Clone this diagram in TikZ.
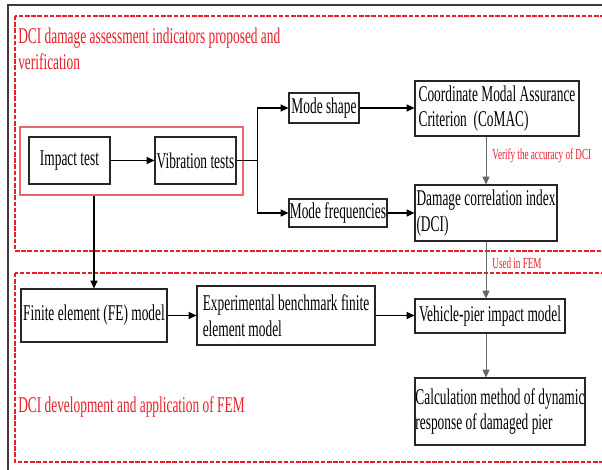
\documentclass[tikz,border=0pt]{standalone}
\usepackage{fontspec}
\setmainfont{Liberation Serif}[FakeStretch=0.595]
\usetikzlibrary{arrows.meta}

\definecolor{dashred}{RGB}{232,30,40}
\definecolor{grpred}{RGB}{234,100,104}
\definecolor{framegrey}{RGB}{60,60,60}
\newlength{\pu}
\setlength{\pu}{0.25mm}

\begin{document}
\begin{tikzpicture}[x=0.25mm, y=-0.25mm,
	every node/.style={font=\fontsize{16pt}{18.1pt}\selectfont},
	box/.style={draw=black!85, line width=0.8pt, align=left, inner sep=0pt},
	flow/.style={-{Triangle[length=5.5pt,width=5pt]}, line width=0.8pt},
	greyflow/.style={-{Triangle[length=5.5pt,width=5pt]}, draw=black!60, line width=0.6pt},
	area/.style={draw=dashred, line width=0.85pt, dash pattern=on 3.2pt off 1.2pt},
	redtext/.style={text=dashred, align=left, inner sep=0pt},
	smallred/.style={text=dashred, font=\fontsize{10.9pt}{12pt}\selectfont, inner sep=6\pu}]
	\useasboundingbox (0,0) rectangle (602,470);

	% frame and the two areas
	\draw [framegrey, line width=1.1pt] (8,470) -- (8,5) -- (602,5);
	\draw [area] (15,16) rectangle (610,251);
	\draw [area] (15,273) rectangle (610,462);
	\node [redtext, anchor=west] (areaone) at (18,49) {DCI damage assessment indicators proposed and\\verification};
	\node [redtext, anchor=west] (areatwo) at (18,407) {DCI development and application of FEM};

	% tests
	\node [draw=grpred, line width=1pt, inner sep=0pt, minimum width=223\pu, minimum height=68\pu] (tests) at (131.5,161) {};
	\node [box, minimum width=81\pu, minimum height=47\pu] (impact) at (69.5,160.5) {Impact test};
	\node [box, minimum width=81\pu, minimum height=47\pu] (vib) at (195.5,160.5) {Vibration tests};

	\node [box, minimum width=70\pu, minimum height=30\pu] (shape) at (324,108) {Mode shape};
	\node [box, minimum width=98\pu, minimum height=28\pu] (freq) at (338,213) {Mode frequencies};
	\node [box, minimum width=164\pu, minimum height=55\pu] (comac) at (497,108.5) {Coordinate Modal Assurance\\Criterion~~(CoMAC)};
	\node [box, minimum width=142\pu, minimum height=56\pu] (dci) at (486,213) {Damage correlation index\\(DCI)};

	% FEM
	\node [box, minimum width=146\pu, minimum height=53\pu] (fe) at (94,315.5) {Finite element (FE) model};
	\node [box, minimum width=178\pu, minimum height=59\pu] (exp) at (286,315.5) {Experimental benchmark finite\\element model};
	\node [box, minimum width=150\pu, minimum height=34\pu] (veh) at (490,316) {Vehicle-pier impact model};
	\node [box, minimum width=170\pu, minimum height=67\pu] (calc) at (500,411.5) {Calculation method of dynamic\\response of damaged pier};

	\draw [flow] (impact) -- (vib);
	\draw [flow] (vib.east) -- ++(21,0) |- (shape);
	\draw [flow] (vib.east) -- ++(21,0) |- (freq);
	\draw [flow] (shape.east) -- (shape.east -| comac.west);
	\draw [flow] (freq.east) -- (freq.east -| dci.west);
	\draw [greyflow] (dci.north |- comac.south) to node [right, smallred, pos=0.4] {Verify the accuracy of DCI} (dci.north);
	\draw [greyflow] (dci.south) to node [right, smallred, pos=0.38] {Used in FEM} (dci.south |- veh.north);
	\draw [greyflow] (dci.south |- veh.south) -- (dci.south |- calc.north);

	\draw [flow] (fe.north |- tests.south) -- (fe.north);
	\draw [flow] (fe.east) -- (fe.east -| exp.west);
	\draw [flow] (exp.east) -- (exp.east -| veh.west);
\end{tikzpicture}
\end{document}
